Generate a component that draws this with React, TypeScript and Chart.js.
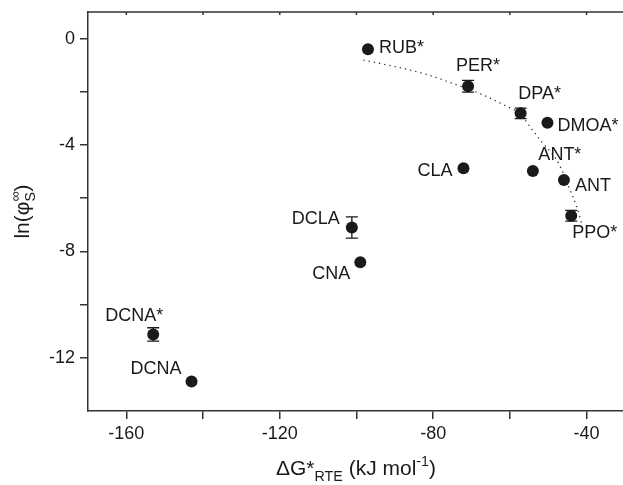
import React, { useEffect, useRef } from 'react';
import { Chart, registerables } from 'chart.js';

Chart.register(...registerables);

// ---- Data ----
const compounds = ['RUB*', 'PER*', 'DPA*', 'DMOA*', 'CLA', 'ANT*', 'ANT', 'PPO*', 'DCLA', 'CNA', 'DCNA*', 'DCNA'];
const deltaG = [-97, -70.9, -57.2, -50.2, -72.1, -54, -45.9, -44, -101.2, -99, -153, -143];
const lnPhi = [-0.4, -1.79, -2.81, -3.16, -4.87, -4.98, -5.32, -6.66, -7.1, -8.41, -11.12, -12.89];
const lnPhiErr = [0, 0.22, 0.2, 0, 0, 0, 0, 0.2, 0.4, 0, 0.25, 0];

const fitX = [-98.2, -91.7, -82.6, -74.8, -67.3, -61.5, -57.2, -54.8, -51.7, -47.8, -46.1, -44.3, -42.6, -41.3];
const fitY = [-0.81, -1.0, -1.31, -1.69, -2.1, -2.5, -2.85, -3.3, -3.88, -4.56, -5.06, -5.69, -6.31, -6.94];

const xTickValues = [-160, -140, -120, -100, -80, -60, -40];
const yTickValues = [-12, -10, -8, -6, -4, -2, 0];

// ---- Label placement (style, not data) ----
const labelPlacement: Record<string, [number, number, CanvasTextAlign]> = {
  'RUB*': [11, -1, 'left'],
  'PER*': [10, -20, 'center'],
  'DPA*': [19, -19, 'center'],
  'DMOA*': [10, 3, 'left'],
  'CLA': [-11, 3, 'right'],
  'ANT*': [27, -16, 'center'],
  'ANT': [11, 6, 'left'],
  'PPO*': [1, 17, 'left'],
  'DCLA': [-12, -8, 'right'],
  'CNA': [-10, 12, 'right'],
  'DCNA*': [-19, -18, 'center'],
  'DCNA': [-10, -12, 'right'],
};

const FONT = '"Liberation Sans", Arial, sans-serif';
const INK = '#1a1a1a';
const AXIS = '#333333';

type Seg = { t?: string; sub?: boolean; sup?: boolean; stack?: [string, string] };

function segWidth(ctx: CanvasRenderingContext2D, s: Seg, size: number) {
  if (s.stack) {
    ctx.font = `${size * 0.68}px ${FONT}`;
    return Math.max(ctx.measureText(s.stack[0]).width, ctx.measureText(s.stack[1]).width);
  }
  ctx.font = `${s.sub || s.sup ? size * 0.68 : size}px ${FONT}`;
  return ctx.measureText(s.t || '').width;
}

function drawRich(ctx: CanvasRenderingContext2D, segs: Seg[], cx: number, baseline: number, size: number) {
  const total = segs.reduce((a, s) => a + segWidth(ctx, s, size), 0);
  let x = cx - total / 2;
  ctx.textAlign = 'left';
  ctx.textBaseline = 'alphabetic';
  for (const s of segs) {
    const w = segWidth(ctx, s, size);
    if (s.stack) {
      ctx.font = `${size * 0.68}px ${FONT}`;
      ctx.fillText(s.stack[0], x, baseline - size * 0.42);
      ctx.fillText(s.stack[1], x, baseline + size * 0.3);
    } else if (s.sub) {
      ctx.font = `${size * 0.68}px ${FONT}`;
      ctx.fillText(s.t || '', x, baseline + size * 0.3);
    } else if (s.sup) {
      ctx.font = `${size * 0.68}px ${FONT}`;
      ctx.fillText(s.t || '', x, baseline - size * 0.42);
    } else {
      ctx.font = `${size}px ${FONT}`;
      ctx.fillText(s.t || '', x, baseline);
    }
    x += w;
  }
}

const xTitle: Seg[] = [{ t: 'ΔG*' }, { t: 'RTE', sub: true }, { t: ' (kJ mol' }, { t: '-1', sup: true }, { t: ')' }];
const yTitle: Seg[] = [{ t: 'ln(φ' }, { stack: ['∞', 'S'] }, { t: ')' }];

const decorPlugin = {
  id: 'decor',
  afterDatasetsDraw(chart: any) {
    const ctx: CanvasRenderingContext2D = chart.ctx;
    const xs = chart.scales.x;
    const ys = chart.scales.y;
    ctx.save();
    // error bars
    ctx.strokeStyle = INK;
    ctx.lineWidth = 1.3;
    deltaG.forEach((gx, i) => {
      const e = lnPhiErr[i];
      if (!e) return;
      const px = xs.getPixelForValue(gx);
      const top = ys.getPixelForValue(lnPhi[i] + e);
      const bot = ys.getPixelForValue(lnPhi[i] - e);
      ctx.beginPath();
      ctx.moveTo(px, top);
      ctx.lineTo(px, bot);
      ctx.moveTo(px - 6, top);
      ctx.lineTo(px + 6, top);
      ctx.moveTo(px - 6, bot);
      ctx.lineTo(px + 6, bot);
      ctx.stroke();
    });
    // point labels
    ctx.fillStyle = INK;
    ctx.font = `18px ${FONT}`;
    ctx.textBaseline = 'middle';
    compounds.forEach((name, i) => {
      const [dx, dy, align] = labelPlacement[name];
      ctx.textAlign = align;
      ctx.fillText(name, xs.getPixelForValue(deltaG[i]) + dx, ys.getPixelForValue(lnPhi[i]) + dy);
    });
    ctx.restore();
  },
  afterDraw(chart: any) {
    const ctx: CanvasRenderingContext2D = chart.ctx;
    const area = chart.chartArea;
    const xs = chart.scales.x;
    ctx.save();
    // top frame line with small ticks
    ctx.strokeStyle = AXIS;
    ctx.lineWidth = 1.5;
    ctx.beginPath();
    ctx.moveTo(area.left, area.top);
    ctx.lineTo(area.right + 2, area.top);
    xTickValues.forEach((v) => {
      const px = xs.getPixelForValue(v);
      ctx.moveTo(px, area.top);
      ctx.lineTo(px, area.top + 3);
    });
    ctx.stroke();
    // titles
    ctx.fillStyle = INK;
    drawRich(ctx, xTitle, 356, 475, 21);
    ctx.translate(29, (area.top + area.bottom) / 2);
    ctx.rotate(-Math.PI / 2);
    drawRich(ctx, yTitle, 0, 0, 21);
    ctx.restore();
  },
};

export default function App() {
  const ref = useRef<HTMLCanvasElement | null>(null);
  useEffect(() => {
    if (!ref.current) return;
    const chart = new Chart(ref.current, {
      type: 'scatter',
      data: {
        datasets: [
          {
            label: 'fit',
            data: fitX.map((x, i) => ({ x, y: fitY[i] })),
            showLine: true,
            borderColor: '#333',
            borderWidth: 1.3,
            borderDash: [1.3, 4],
            pointRadius: 0,
            cubicInterpolationMode: 'monotone',
            fill: false,
          } as any,
          {
            label: 'compounds',
            data: deltaG.map((x, i) => ({ x, y: lnPhi[i] })),
            backgroundColor: INK,
            borderColor: INK,
            borderWidth: 0,
            pointRadius: 6,
            pointStyle: 'circle',
          },
        ],
      },
      options: {
        responsive: false,
        animation: false,
        devicePixelRatio: 1,
        layout: { autoPadding: false, padding: { top: 12, left: 0, right: 0, bottom: 0 } },
        plugins: { legend: { display: false }, tooltip: { enabled: false } },
        scales: {
          x: {
            type: 'linear',
            min: -170,
            max: -30.5,
            afterBuildTicks: (s: any) => {
              s.ticks = xTickValues.map((v) => ({ value: v }));
            },
            afterFit: (s: any) => {
              s.height = 74;
              s.paddingLeft = 0;
              s.paddingRight = 0;
              s.paddingTop = 0;
              s.paddingBottom = 0;
            },
            ticks: {
              autoSkip: false,
              maxRotation: 0,
              padding: 4,
              color: INK,
              font: { family: FONT, size: 18 },
              callback: (v: any) => (Number(v) % 40 === 0 ? String(v) : ''),
            },
            grid: { display: true, drawOnChartArea: false, drawTicks: true, tickLength: 8, color: AXIS, lineWidth: 1.5 },
            border: { display: true, color: AXIS, width: 1.5 },
            title: { display: false },
          },
          y: {
            type: 'linear',
            min: -14,
            max: 1,
            afterBuildTicks: (s: any) => {
              s.ticks = yTickValues.map((v) => ({ value: v }));
            },
            afterFit: (s: any) => {
              s.width = 88;
              s.paddingLeft = 0;
              s.paddingRight = 0;
              s.paddingTop = 0;
              s.paddingBottom = 0;
            },
            ticks: {
              autoSkip: false,
              padding: 5,
              color: INK,
              font: { family: FONT, size: 18 },
              callback: (v: any) => (Number(v) % 4 === 0 ? String(v) : ''),
            },
            grid: { display: true, drawOnChartArea: false, drawTicks: true, tickLength: 8, color: AXIS, lineWidth: 1.5 },
            border: { display: true, color: AXIS, width: 1.5 },
            title: { display: false },
          },
        },
      },
      plugins: [decorPlugin],
    });
    return () => chart.destroy();
  }, []);
  return (
    <div style={{ position: 'fixed', left: 0, top: 0, width: 623, height: 485, overflow: 'hidden', background: '#fff' }}>
      <canvas ref={ref} width={623} height={485} style={{ display: 'block' }} />
    </div>
  );
}
